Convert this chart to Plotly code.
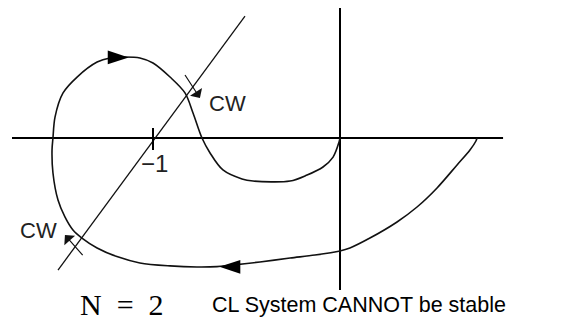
import plotly.graph_objects as go

# Nyquist curve (Re, Im), traced from omega=0 end toward origin
nyq_re = [0.733, 0.727, 0.695, 0.626, 0.519, 0.412, 0.305, 0.160, 0.053, 0.0, -0.134, -0.267,
          -0.428, -0.588, -0.658, -0.765, -0.909, -1.070, -1.193, -1.299, -1.380, -1.428,
          -1.471, -1.508, -1.535, -1.540, -1.535, -1.524, -1.481, -1.406, -1.299, -1.230,
          -1.150, -1.070, -1.000, -0.909, -0.829, -0.786, -0.738, -0.695, -0.626, -0.524,
          -0.465, -0.267, -0.176, -0.091, -0.037, -0.005, 0.0]
nyq_im = [0.0, -0.016, -0.064, -0.144, -0.267, -0.369, -0.449, -0.535, -0.588, -0.604, -0.626,
          -0.642, -0.663, -0.681, -0.688, -0.690, -0.684, -0.668, -0.634, -0.588, -0.535,
          -0.492, -0.422, -0.332, -0.187, -0.064, 0.0, 0.112, 0.241, 0.326, 0.406, 0.428,
          0.433, 0.428, 0.401, 0.326, 0.241, 0.134, 0.0, -0.080, -0.171, -0.219, -0.230,
          -0.230, -0.198, -0.155, -0.102, -0.021, 0.0]

# Axes extents
real_axis_x = [-1.754, 0.872]
real_axis_y = [0.0, 0.0]
imag_axis_x = [0.0, 0.0]
imag_axis_y = [0.695, -0.813]

# Line through -1 point
ray_x = [-0.508, -1.508]
ray_y = [0.652, -0.706]

# -1 tick
tick_x = [-1.0, -1.0]
tick_y = [0.053, -0.064]

# Direction arrows on curve
arrow_x = [-1.130, -0.645]
arrow_y = [0.431, -0.689]
arrow_angle = [90, -90]

# CW arrows: head and tail
cw_head_x = [-0.749, -1.471]
cw_head_y = [0.214, -0.519]
cw_tail_x = [-0.834, -1.369]
cw_tail_y = [0.345, -0.634]
cw_label_x = [-0.604, -1.615]
cw_label_y = [0.187, -0.497]
cw_labels = ["CW", "CW"]

minus_one_label = "\u22121"
minus_one_pos = (-0.990, -0.139)

ink = "#111111"
fig = go.Figure()

fig.add_trace(go.Scatter(x=real_axis_x, y=real_axis_y, mode="lines",
                         line=dict(color="black", width=2), hoverinfo="skip"))
fig.add_trace(go.Scatter(x=imag_axis_x, y=imag_axis_y, mode="lines",
                         line=dict(color="black", width=2), hoverinfo="skip"))
fig.add_trace(go.Scatter(x=ray_x, y=ray_y, mode="lines",
                         line=dict(color=ink, width=1.3), hoverinfo="skip"))
fig.add_trace(go.Scatter(x=tick_x, y=tick_y, mode="lines",
                         line=dict(color="black", width=2), hoverinfo="skip"))
fig.add_trace(go.Scatter(x=nyq_re, y=nyq_im, mode="lines",
                         line=dict(color=ink, width=1.6, shape="spline", smoothing=0.9),
                         hoverinfo="skip"))
fig.add_trace(go.Scatter(x=arrow_x, y=arrow_y, mode="markers",
                         marker=dict(symbol="arrow", size=22, angle=arrow_angle,
                                     color="black", line=dict(width=0)),
                         hoverinfo="skip"))

for hx, hy, tx, ty in zip(cw_head_x, cw_head_y, cw_tail_x, cw_tail_y):
    fig.add_annotation(x=hx, y=hy, ax=tx, ay=ty, xref="x", yref="y", axref="x", ayref="y",
                       showarrow=True, arrowhead=1, arrowsize=2, arrowwidth=1.2,
                       arrowcolor=ink, text="")

for lx, ly, t in zip(cw_label_x, cw_label_y, cw_labels):
    fig.add_annotation(x=lx, y=ly, xref="x", yref="y", text=t, showarrow=False,
                       font=dict(family="Liberation Sans, Arial", size=22, color="#222222"))

fig.add_annotation(x=minus_one_pos[0], y=minus_one_pos[1], xref="x", yref="y",
                   text=minus_one_label, showarrow=False,
                   font=dict(family="Liberation Sans, Arial", size=24, color="#222222"))

fig.add_annotation(x=-1.166, y=-0.893, xref="x", yref="y", text="N\u2002=\u20022",
                   showarrow=False, xanchor="center",
                   font=dict(family="Liberation Serif, Times New Roman", size=30, color="black"))
fig.add_annotation(x=-0.695, y=-0.893, xref="x", yref="y", text="CL System CANNOT be stable",
                   showarrow=False, xanchor="left",
                   font=dict(family="Liberation Sans, Arial", size=21.5, color="black"))

fig.update_layout(
    width=587, height=328, margin=dict(l=0, r=0, t=0, b=0),
    paper_bgcolor="white", plot_bgcolor="white", showlegend=False,
    xaxis=dict(range=[-340/187, 247/187], visible=False, fixedrange=True),
    yaxis=dict(range=[(138-328)/187, 138/187], visible=False, fixedrange=True),
)

fig.write_html("out.html", config={"displayModeBar": False},
               post_script="document.body.style.margin='0';document.body.style.overflow='hidden';")
